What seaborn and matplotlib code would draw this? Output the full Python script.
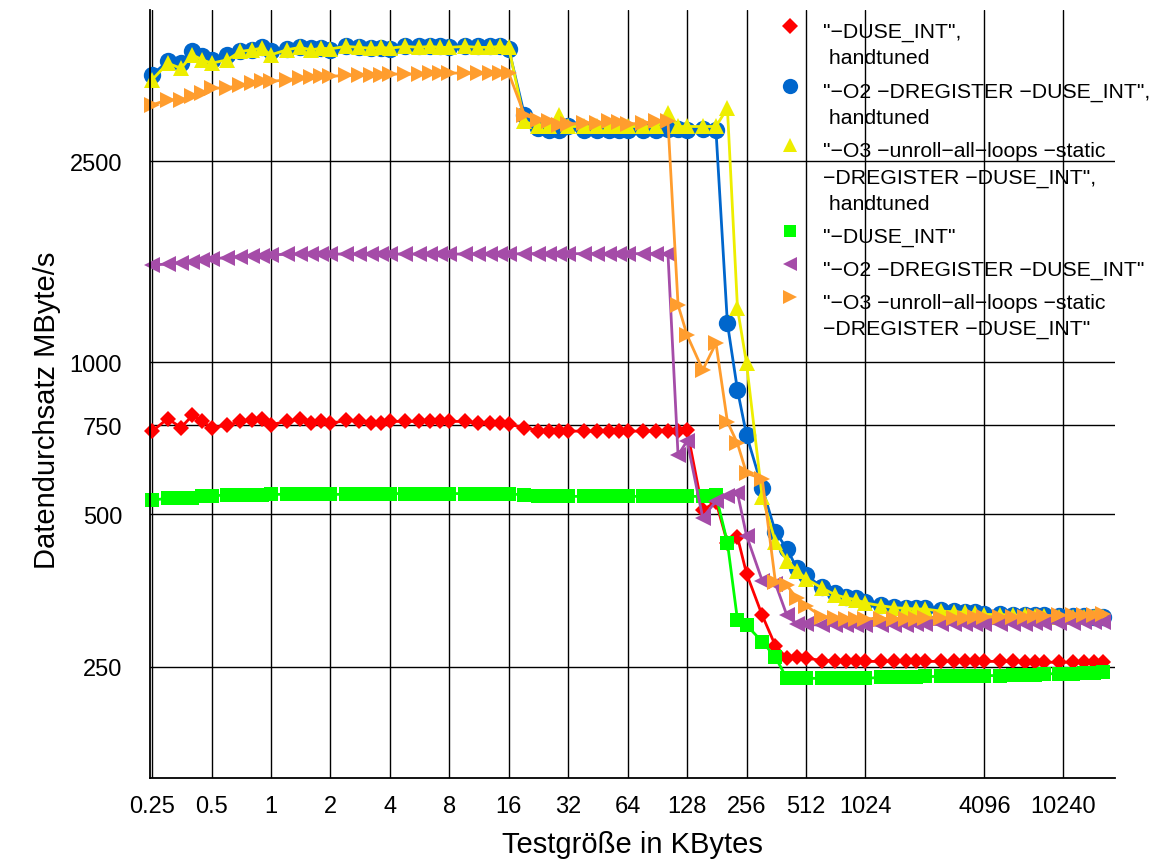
import matplotlib
matplotlib.use("Agg")
import matplotlib.pyplot as plt
from matplotlib.lines import Line2D
import seaborn as sns

# --- data: test size (KB) vs throughput (MByte/s) ---
SIZES_KB = [
    0.25, 0.3, 0.35, 0.4, 0.45,
    0.5, 0.6, 0.7, 0.8, 0.9,
    1, 1.2, 1.4, 1.6, 1.8,
    2, 2.4, 2.8, 3.2, 3.6,
    4, 4.8, 5.6, 6.4, 7.2,
    8, 9.6, 11.2, 12.8, 14.4,
    16, 19.2, 22.4, 25.6, 28.8,
    32, 38.4, 44.8, 51.2, 57.6,
    64, 76.8, 89.6, 102.4, 115.2,
    128, 153.6, 179.2, 204.8, 230.4,
    256, 307.2, 358.4, 409.6, 460.8,
    512, 614.4, 716.8, 819.2, 921.6,
    1024, 1228.8, 1433.6, 1638.4, 1843.2,
    2048, 2457.6, 2867.2, 3276.8, 3686.4,
    4096, 4915.2, 5734.4, 6553.6, 7372.8,
    8192, 9830.4, 11468.8, 13107.2, 14745.6,
    16384,
]

DUSE_INT_HT = [
    730, 774, 743, 785, 764, 743, 750, 764, 768, 774,
    753, 764, 771, 757, 764, 757, 768, 764, 760, 760,
    764, 764, 764, 764, 764, 764, 764, 757, 760, 760,
    754, 743, 733, 730, 731, 731, 731, 731, 731, 731,
    731, 731, 731, 731, 731, 735, 510, 530, 440, 451,
    382, 316, 275, 260, 261, 260, 257, 257, 256, 256,
    256, 256, 256, 256, 256, 256, 256, 256, 256, 256,
    256, 256, 256, 255, 255, 255, 255, 255, 255, 255,
    255,
]

O2_HT = [
    3707, 3939, 3908, 4123, 4030, 3968, 4049, 4123, 4153, 4200,
    4123, 4172, 4200, 4185, 4185, 4153, 4219, 4200, 4185, 4185,
    4172, 4219, 4219, 4219, 4219, 4200, 4219, 4219, 4219, 4219,
    4172, 3089, 2907, 2884, 2884, 2930, 2884, 2884, 2884, 2884,
    2884, 2884, 2884, 2900, 2900, 2884, 2900, 2884, 1195, 881,
    718, 565, 462, 428, 391, 379, 360, 349, 344, 341,
    336, 331, 328, 327, 326, 326, 323, 322, 321, 320,
    318, 318, 317, 317, 316, 316, 315, 315, 315, 314,
    314,
]

O3_HT = [
    3623, 3908, 3818, 4060, 3968, 3908, 3968, 4123, 4153, 4185,
    4060, 4153, 4200, 4153, 4185, 4172, 4219, 4200, 4185, 4200,
    4185, 4219, 4200, 4219, 4200, 4200, 4219, 4200, 4200, 4219,
    4200, 3000, 2929, 2929, 3089, 2929, 2929, 2929, 2929, 2929,
    2929, 2929, 2929, 3112, 2929, 2929, 2929, 2929, 3185, 1279,
    995, 542, 442, 405, 387, 373, 358, 347, 342, 339,
    334, 330, 327, 326, 325, 325, 322, 321, 320, 319,
    317, 317, 316, 316, 315, 315, 314, 314, 314, 313,
    313,
]

DUSE_INT = [
    534, 538, 540, 540, 545, 545, 546, 546, 546, 546,
    548, 548, 548, 548, 548, 548, 548, 548, 548, 550,
    550, 550, 550, 550, 550, 550, 550, 550, 550, 550,
    550, 546, 545, 545, 543, 543, 543, 543, 543, 543,
    543, 543, 543, 543, 543, 543, 543, 546, 440, 309,
    302, 280, 261, 237, 237, 237, 237, 237, 237, 237,
    237, 238, 238, 238, 238, 239, 239, 239, 239, 240,
    240, 240, 241, 241, 241, 242, 242, 242, 243, 243,
    244,
]

O2 = [
    1558, 1565, 1575, 1582, 1594, 1602, 1612, 1619, 1624, 1627,
    1632, 1636, 1638, 1638, 1638, 1638, 1638, 1638, 1638, 1638,
    1638, 1638, 1638, 1638, 1638, 1638, 1638, 1638, 1638, 1638,
    1638, 1641, 1641, 1641, 1641, 1641, 1641, 1641, 1641, 1641,
    1641, 1641, 1641, 1641, 655, 699, 493, 531, 545, 551,
    454, 370, 365, 316, 304, 303, 302, 302, 302, 302,
    302, 302, 302, 302, 303, 303, 303, 303, 303, 304,
    304, 304, 304, 304, 305, 305, 305, 305, 306, 306,
    306,
]

O3 = [
    3232, 3307, 3307, 3359, 3410, 3489, 3489, 3542, 3569, 3597,
    3597, 3623, 3652, 3669, 3680, 3680, 3697, 3697, 3707, 3707,
    3719, 3719, 3719, 3736, 3736, 3736, 3736, 3736, 3736, 3736,
    3736, 3089, 3019, 2997, 2952, 2961, 2975, 2975, 2997, 2988,
    2961, 2975, 2997, 2997, 1299, 1132, 966, 1091, 763, 691,
    603, 589, 368, 362, 341, 330, 314, 312, 311, 311,
    311, 311, 311, 311, 311, 312, 312, 312, 312, 313,
    313, 314, 314, 314, 315, 315, 316, 316, 317, 317,
    318,
]

X_TICKS = [0.25, 0.5, 1, 2, 4, 8, 16, 32, 64, 128, 256, 512, 1024, 4096, 10240]
X_TICK_LABELS = ["0.25", "0.5", "1", "2", "4", "8", "16", "32", "64", "128",
                 "256", "512", "1024", "4096", "10240"]
Y_TICKS = [250, 500, 750, 1000, 2500]

M = "\u2212"
SERIES = [
    (DUSE_INT_HT, [f'"{M}DUSE_INT",', " handtuned"],
     "#ff0000", "D", 8.5, 8.5),
    (O2_HT, [f'"{M}O2 {M}DREGISTER {M}DUSE_INT",', " handtuned"],
     "#0066cc", "o", 12.5, 11),
    (O3_HT, [f'"{M}O3 {M}unroll{M}all{M}loops {M}static',
             f'{M}DREGISTER {M}DUSE_INT",', " handtuned"],
     "#eeee00", "^", 11.5, 10),
    (DUSE_INT, [f'"{M}DUSE_INT"'],
     "#00ff00", "s", 9.5, 8.5),
    (O2, [f'"{M}O2 {M}DREGISTER {M}DUSE_INT"'],
     "#a54ca8", "<", 11, 9.5),
    (O3, [f'"{M}O3 {M}unroll{M}all{M}loops {M}static',
          f'{M}DREGISTER {M}DUSE_INT"'],
     "#ff9d2e", ">", 11.5, 9.5),
]

# --- style ---
sns.set_theme(style="white")
plt.rcParams["font.family"] = ["Liberation Sans", "DejaVu Sans"]

W, H = 1160, 862
fig = plt.figure(figsize=(W / 100, H / 100), dpi=100)
ax = fig.add_axes([150 / W, 1 - 779 / H, 965 / W, 768 / H])

for values, lines, color, marker, ms, _ in SERIES:
    sns.lineplot(x=SIZES_KB, y=values, ax=ax, color=color, marker=marker,
                 markersize=ms, markeredgewidth=0, linewidth=2,
                 errorbar=None, sort=False, legend=False, clip_on=False)

ax.set_xscale("log", base=2)
ax.set_yscale("log")
ax.set_xlim(0.244, 18800)
ax.set_ylim(150.5, 4980)
ax.set_xticks(X_TICKS)
ax.set_xticklabels(X_TICK_LABELS)
ax.set_yticks(Y_TICKS)
ax.set_yticklabels([str(t) for t in Y_TICKS])
ax.minorticks_off()

ax.grid(True, which="major", color="black", linewidth=1.0)
ax.set_axisbelow(True)
for side in ["top", "right"]:
    ax.spines[side].set_visible(False)
for side in ["left", "bottom"]:
    ax.spines[side].set_color("black")
    ax.spines[side].set_linewidth(1.3)

ax.tick_params(axis="both", direction="out", length=10, width=1,
               color="black", labelsize=17, labelcolor="black")
ax.tick_params(axis="x", pad=2)
ax.tick_params(axis="y", pad=10)

ax.set_xlabel("Testgröße in KBytes", fontsize=21, color="black")
ax.set_ylabel("Datendurchsatz MByte/s", fontsize=21, color="black")
ax.xaxis.set_label_coords(0.5, -0.068)
ax.yaxis.set_label_coords(-0.092, 0.48)

# --- legend, gnuplot style: marker next to the first text line ---
line_h, gap, top = 26.5, 6.5, 23.0
for values, lines, color, marker, _, lms in SERIES:
    fig.add_artist(Line2D([790 / W], [1 - (top + 4) / H], transform=fig.transFigure,
                          marker=marker, markersize=lms, color=color,
                          markeredgewidth=0, linestyle="none"))
    for i, txt in enumerate(lines):
        fig.text(823 / W, 1 - (top + i * line_h) / H, txt, fontsize=15.3,
                 va="top", ha="left", color="black")
    top += len(lines) * line_h + gap

fig.savefig("out.png", dpi=100)
